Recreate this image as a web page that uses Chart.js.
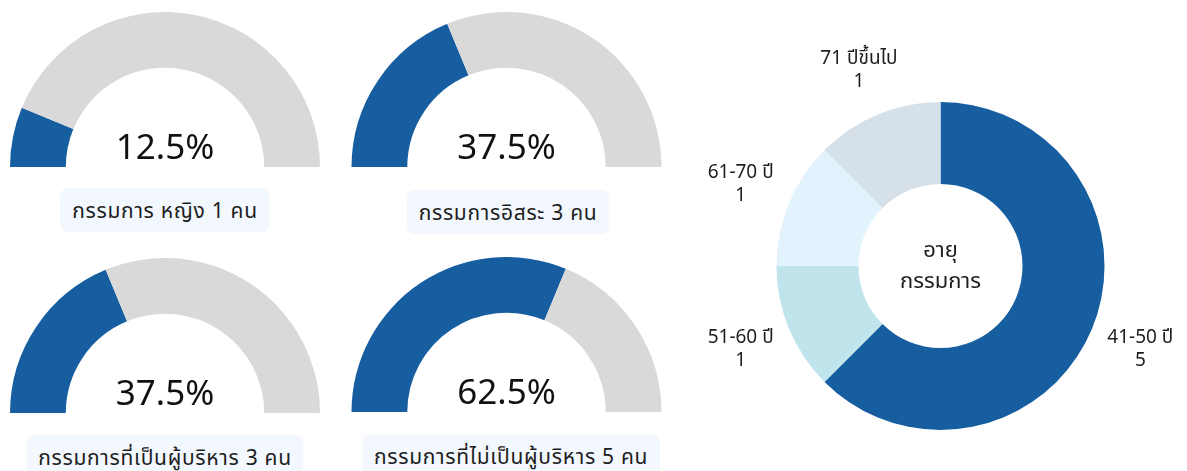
<!DOCTYPE html>
<html>
<head>
<meta charset="utf-8">
<script src="https://cdn.jsdelivr.net/npm/chart.js@4.4.1/dist/chart.umd.min.js"></script>
<style>
body { margin: 0; width: 1187px; height: 471px; overflow: hidden; background: #fff;
       font-family: 'Noto Sans', 'Noto Sans Thai', Loma, Garuda, sans-serif; color: #1e1e1e; }
.gauge { position: absolute; }
.tag { position: absolute; transform: translateX(-50%); white-space: nowrap; background: #f3f8fe;
       border-radius: 8px; padding: 0 12px; height: 44px; line-height: 44px; font-size: 21px; letter-spacing: 0.7px; }
#ageWrap { position: absolute; left: 680px; top: 0; width: 507px; height: 471px; }
</style>
</head>
<body>
<div class="gauge" style="left:10px;top:12px;width:310px;height:155px"><canvas id="g0"></canvas></div>
<div class="gauge" style="left:351px;top:12px;width:311px;height:155px"><canvas id="g1"></canvas></div>
<div class="gauge" style="left:10px;top:258px;width:310px;height:155px"><canvas id="g2"></canvas></div>
<div class="gauge" style="left:351px;top:257px;width:311px;height:155px"><canvas id="g3"></canvas></div>
<div class="tag" id="t0" style="left:165px;top:188px"></div>
<div class="tag" id="t1" style="left:508px;top:190px"></div>
<div class="tag" id="t2" style="left:165px;top:435px"></div>
<div class="tag" id="t3" style="left:511px;top:434px"></div>
<div id="ageWrap"><canvas id="ageChart"></canvas></div>
<script>
const FONT = "'Noto Sans', 'Noto Sans Thai', Loma, Garuda, sans-serif";
const TOTAL_DIRECTORS = 8;

// gauges
const gaugeNames = ['กรรมการ หญิง', 'กรรมการอิสระ', 'กรรมการที่เป็นผู้บริหาร', 'กรรมการที่ไม่เป็นผู้บริหาร'];
const gaugeCounts = [1, 3, 3, 5];

// age doughnut
const ageGroups = ['41-50 ปี', '51-60 ปี', '61-70 ปี', '71 ปีขึ้นไป'];
const ageCounts = [5, 1, 1, 1];
const ageTitle = ['อายุ', 'กรรมการ'];

const BLUE = '#175ea0';
const GREY = '#d9d9d9';
const ageColors = [BLUE, '#bfe4ec', '#e3f3fd', '#d6e0e8'];

const gaugeText = {
    id: 'gaugeText',
    afterDatasetsDraw(chart, args, opts) {
        const arc = chart.getDatasetMeta(0).data[0];
        const ctx = chart.ctx;
        ctx.save();
        ctx.font = '35px ' + FONT;
        ctx.fillStyle = '#111';
        ctx.textAlign = 'center';
        ctx.textBaseline = 'alphabetic';
        ctx.fillText(opts.text, arc.x, arc.y - 8);
        ctx.restore();
    }
};

gaugeCounts.forEach((count, i) => {
    const pct = (count / TOTAL_DIRECTORS * 100).toFixed(1) + '%';
    document.getElementById('t' + i).textContent = gaugeNames[i] + ' ' + count + ' คน';
    new Chart(document.getElementById('g' + i), {
        type: 'doughnut',
        data: {
            labels: [gaugeNames[i], 'อื่น ๆ'],
            datasets: [{
                data: [count, TOTAL_DIRECTORS - count],
                backgroundColor: [BLUE, GREY],
                borderWidth: 0
            }]
        },
        options: {
            responsive: true,
            maintainAspectRatio: false,
            animation: false,
            rotation: -90,
            circumference: 180,
            cutout: '64%',
            plugins: { legend: { display: false }, tooltip: { enabled: false }, gaugeText: { text: pct } }
        },
        plugins: [gaugeText]
    });
});

const ageLabels = {
    id: 'ageLabels',
    afterDatasetsDraw(chart) {
        const ctx = chart.ctx;
        const arcs = chart.getDatasetMeta(0).data;
        ctx.save();
        ctx.fillStyle = '#1e1e1e';
        ctx.textAlign = 'center';
        ctx.textBaseline = 'middle';
        ctx.font = '19px ' + FONT;
        arcs.forEach((arc, i) => {
            const lines = [ageGroups[i], String(ageCounts[i])];
            const w = Math.max(...lines.map(l => ctx.measureText(l).width));
            const h = 46;
            const mid = (arc.startAngle + arc.endAngle) / 2;
            const vx = Math.cos(mid), vy = Math.sin(mid);
            const d = arc.outerRadius + 13 + Math.abs(vx) * w / 2 + Math.abs(vy) * h / 2;
            const cx = arc.x + vx * d, cy = arc.y + vy * d;
            ctx.fillText(lines[0], cx, cy - 11);
            ctx.fillText(lines[1], cx, cy + 12);
        });
        const c = arcs[0];
        ctx.font = '22px ' + FONT;
        ctx.fillText(ageTitle[0], c.x, c.y - 15);
        ctx.fillText(ageTitle[1], c.x, c.y + 16);
        ctx.restore();
    }
};

new Chart(document.getElementById('ageChart'), {
    type: 'doughnut',
    data: {
        labels: ageGroups,
        datasets: [{
            data: ageCounts,
            backgroundColor: ageColors,
            borderWidth: 0
        }]
    },
    options: {
        responsive: true,
        maintainAspectRatio: false,
        animation: false,
        cutout: '50%',
        layout: { padding: { left: 96.5, right: 82.5, top: 102, bottom: 41 } },
        plugins: { legend: { display: false }, tooltip: { enabled: false } }
    },
    plugins: [ageLabels]
});
</script>
</body>
</html>
